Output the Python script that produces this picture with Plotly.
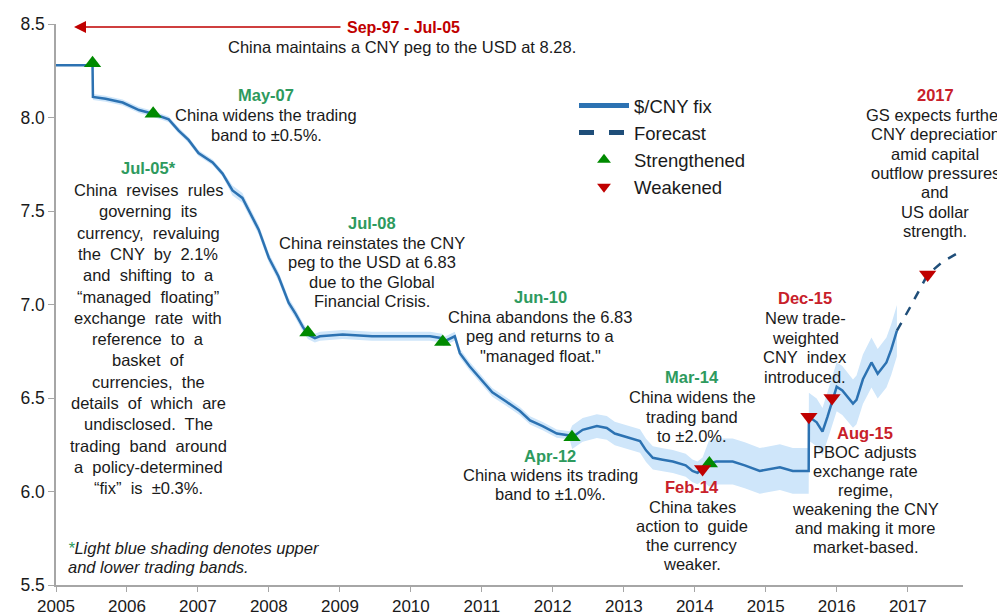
import plotly.graph_objects as go

# $/CNY daily fix
fix_dates = [
    "2005-01-01", "2005-07-08", "2005-07-10", "2005-09-13", "2005-12-10",
    "2006-03-04", "2006-05-15", "2006-08-04", "2006-09-24", "2006-11-14",
    "2007-01-04", "2007-03-18", "2007-05-08", "2007-06-28", "2007-08-18",
    "2007-10-08", "2007-11-10", "2008-01-01", "2008-02-20", "2008-04-12",
    "2008-05-18", "2008-06-24", "2008-07-20", "2008-08-25", "2008-09-20",
    "2009-01-15", "2009-06-15", "2009-12-15", "2010-04-10", "2010-06-10",
    "2010-06-16", "2010-08-15", "2010-09-10", "2010-10-30", "2010-12-20",
    "2011-02-24", "2011-05-08", "2011-07-16", "2011-09-06", "2011-11-10",
    "2012-01-22", "2012-03-28", "2012-04-10", "2012-06-03", "2012-08-15",
    "2012-10-05", "2012-11-15", "2013-01-15", "2013-03-25", "2013-04-25",
    "2013-05-30", "2013-07-20", "2013-09-10", "2013-11-15", "2013-12-20",
    "2014-01-15", "2014-02-10", "2014-03-15", "2014-04-22", "2014-07-15",
    "2014-09-15", "2014-12-01", "2015-03-15", "2015-05-20", "2015-08-10",
    "2015-08-11", "2015-09-20", "2015-10-20", "2015-11-15", "2015-12-05",
    "2016-01-01", "2016-01-30", "2016-03-25", "2016-04-12", "2016-05-15",
    "2016-06-28", "2016-07-30", "2016-09-13", "2016-10-08", "2016-11-06",
]
fix_values = [
    8.28, 8.28, 8.11, 8.10, 8.08,
    8.04, 8.02, 7.99, 7.93, 7.88,
    7.81, 7.76, 7.70, 7.61, 7.57,
    7.47, 7.40, 7.25, 7.15, 7.01,
    6.95, 6.88, 6.84, 6.82, 6.83,
    6.84, 6.83, 6.83, 6.83, 6.82,
    6.80, 6.83, 6.74, 6.67, 6.61,
    6.53, 6.48, 6.43, 6.38, 6.35,
    6.31, 6.30, 6.29, 6.33, 6.35,
    6.34, 6.31, 6.29, 6.27, 6.22,
    6.18, 6.17, 6.16, 6.14, 6.11,
    6.10, 6.12, 6.15, 6.16, 6.16,
    6.14, 6.11, 6.13, 6.11, 6.11,
    6.40, 6.37, 6.32, 6.40, 6.47,
    6.56, 6.54, 6.47, 6.49, 6.60,
    6.69, 6.63, 6.69, 6.76, 6.86,
]

# trading band regimes as drawn (start date, +/- width)
band_starts = ["2005-07-10", "2007-05-21", "2012-04-10", "2014-03-15"]
band_widths = [0.002, 0.0035, 0.01, 0.02]

forecast_dates = ["2016-11-06", "2017-01-10", "2017-04-13", "2017-07-01", "2017-10-10"]
forecast_values = [6.86, 6.98, 7.16, 7.23, 7.29]

strong_dates = ["2005-07-08", "2006-05-16", "2008-07-20", "2010-06-14", "2012-04-09", "2014-03-17"]
strong_values = [8.29, 8.02, 6.85, 6.80, 6.29, 6.15]
weak_dates = ["2014-02-10", "2015-08-11", "2015-12-08", "2017-04-13"]
weak_values = [6.12, 6.40, 6.50, 7.16]

LINE = "#2C72B2"
NAVY = "#1F4E79"
BAND = "#CFE6FA"
GREEN = "#008A00"
RED = "#C00000"
T_GREEN = "#2E9A5E"
T_RED = "#C8202A"
TXT = "#1A1A1A"
FONT = "Liberation Sans, Arial, sans-serif"
SIZE = 16.5


def band_for(d):
    w = 0.0
    for s, bw in zip(band_starts, band_widths):
        if d >= s:
            w = bw
    return w


upper = [v * (1 + band_for(d)) for d, v in zip(fix_dates, fix_values)]
lower = [v * (1 - band_for(d)) for d, v in zip(fix_dates, fix_values)]

fig = go.Figure()

fig.add_trace(go.Scatter(x=fix_dates, y=upper, mode="lines", line=dict(width=0, color=BAND),
                         showlegend=False, hoverinfo="skip"))
fig.add_trace(go.Scatter(x=fix_dates, y=lower, mode="lines", line=dict(width=0, color=BAND),
                         fill="tonexty", fillcolor=BAND, showlegend=False, hoverinfo="skip"))

fig.add_trace(go.Scatter(x=fix_dates, y=fix_values, mode="lines", name="$/CNY fix",
                         line=dict(color=LINE, width=2.5)))
fig.add_trace(go.Scatter(x=forecast_dates, y=forecast_values, mode="lines", name="Forecast",
                         line=dict(color=NAVY, width=2.5, dash="dash")))
fig.add_trace(go.Scatter(x=strong_dates, y=strong_values, mode="markers", name="Strengthened",
                         marker=dict(symbol="triangle-up", size=15, color=GREEN)))
fig.add_trace(go.Scatter(x=weak_dates, y=weak_values, mode="markers", name="Weakened",
                         marker=dict(symbol="triangle-down", size=15, color=RED)))

# page sits 8px in from the window corner; plot area on screen: x 56..963, y 24..585
OFF = 8
W, H = 1005 - OFF, 616 - OFF
L, R, T, B = 56 - OFF, 963 - OFF, 24 - OFF, 585 - OFF


def px(xs, ys):
    xf, yf = xs - OFF, ys - OFF
    return (xf - L) / (R - L), (B - yf) / (B - T)


def label(x, y, text, color=TXT, size=SIZE, anchor="center"):
    xp, yp = px(x, y)
    fig.add_annotation(x=xp, y=yp, xref="paper", yref="paper", text=text, showarrow=False,
                       xanchor=anchor, yanchor="middle", font=dict(family=FONT, size=size, color=color))


def block(x, title_y, title, color, lines, first_y, step, size=SIZE):
    label(x, title_y, f"<b>{title}</b>", color=color, size=size)
    for i, line in enumerate(lines):
        label(x, first_y + i * step, line, size=size)


block(266, 95, "May-07", T_GREEN, ["China widens the trading", "band to ±0.5%."], 115, 19.5)
block(148, 168, "Jul-05*", T_GREEN, [
    "China  revises  rules", "governing  its", "currency,  revaluing", "the  CNY  by  2.1%",
    "and  shifting  to  a", "“managed  floating”", "exchange  rate  with", "reference  to  a",
    "basket  of", "currencies,  the", "details  of  which  are", "undisclosed.  The",
    "trading  band  around", "a  policy-determined", "“fix”  is  ±0.3%."], 190, 21.3)
block(372, 223, "Jul-08", T_GREEN, ["China reinstates the CNY", "peg to the USD at 6.83",
                                    "due to the Global", "Financial Crisis."], 243, 19.3)
block(540, 297, "Jun-10", T_GREEN, ["China abandons the 6.83", "peg and returns to a",
                                    "\"managed float.\""], 317, 19.3)
block(550, 456, "Apr-12", T_GREEN, ["China widens its trading", "band to ±1.0%."], 475, 19)
block(692, 377, "Mar-14", T_GREEN, ["China widens the", "trading band", "to ±2.0%."], 397, 19.5)
block(692, 487, "Feb-14", T_RED, ["China takes", "action to  guide", "the currency", "weaker."],
      507, 19)
block(805, 298, "Dec-15", T_RED, ["New trade-", "weighted", "CNY  index", "introduced."], 318, 19.5)
block(865, 433, "Aug-15", T_RED, ["PBOC adjusts", "exchange rate", "regime,",
                                  "weakening the CNY", "and making it more", "market-based."],
      452, 19)
block(935, 95, "2017", T_RED, ["GS expects further", "CNY depreciation", "amid capital",
                               "outflow pressures", "and", "US dollar", "strength."], 115, 19.3)

# peg arrow and caption
xa, ya = px(74, 27)
fig.add_annotation(x=xa, y=ya, xref="paper", yref="paper", ax=342 - 74, ay=0,
                   text="", showarrow=True, arrowhead=2, arrowsize=1.6,
                   arrowwidth=1.5, arrowcolor=RED)
label(345, 27, "<b>Sep-97 - Jul-05</b>", color=RED, size=16, anchor="left")
label(402, 47, "China maintains a CNY peg to the USD at 8.28.")

label(66, 548, f"<i><span style='color:{T_GREEN}'>*</span>Light blue shading denotes upper</i>",
      anchor="left")
label(66, 567, "<i>and lower trading bands.</i>", anchor="left")

lx, ly = px(574, 87)
fig.update_layout(
    width=W, height=H,
    margin=dict(l=L, r=W - R, t=T, b=H - B, autoexpand=False),
    plot_bgcolor="white", paper_bgcolor="white",
    font=dict(family=FONT, size=16, color=TXT),
    legend=dict(x=lx, y=ly, xanchor="left", yanchor="top", bgcolor="rgba(0,0,0,0)",
                traceorder="normal", font=dict(family=FONT, size=18.5, color=TXT),
                itemsizing="constant", itemwidth=50),
    xaxis=dict(type="date", range=["2005-01-01", "2017-10-12"], dtick="M12", tickformat="%Y",
               automargin=False, showgrid=False, zeroline=False, showline=True,
               linecolor="#A6A6A6", linewidth=1.5, ticks="outside", ticklen=5,
               tickcolor="#A6A6A6", tickfont=dict(family=FONT, size=17, color=TXT)),
    yaxis=dict(range=[5.5, 8.5], dtick=0.5, tickformat=".1f", automargin=False,
               showgrid=False, zeroline=False, showline=True, linecolor="#A6A6A6",
               linewidth=1.5, ticks="outside", ticklen=6, tickcolor="#A6A6A6",
               tickfont=dict(family=FONT, size=17.5, color=TXT)),
)

fig.write_html("out.html")
